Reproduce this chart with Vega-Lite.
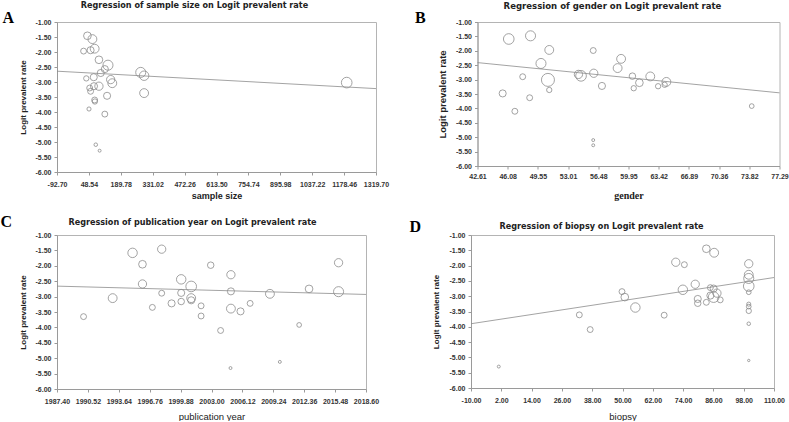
{
  "$schema": "https://vega.github.io/schema/vega-lite/v6.json",
  "padding": {"left": 0, "top": 0, "right": 0, "bottom": 0},
  "spacing": 13,
  "config": {
    "locale": {"number": {"decimal": ".", "thousands": ",", "grouping": [3], "currency": ["$", ""], "minus": "-"}},
    "view": {"stroke": "#b4b4b4", "strokeWidth": 1},
    "axis": {
      "grid": false, "domainColor": "#9a9a9a", "tickColor": "#9a9a9a", "tickSize": 3,
      "labelFont": "Liberation Sans, Arial, sans-serif",
      "labelFontSize": 7, "labelFontWeight": "bold", "labelColor": "#333", "labelFlush": false, "labelPadding": 5,
      "labelOverlap": false,
      "titleFont": "Liberation Sans, Arial, sans-serif", "titleFontSize": 8.5, "titleFontWeight": "bold", "titleColor": "#222"
    },
    "title": {"font": "Liberation Sans Narrow, DejaVu Sans Condensed, sans-serif", "fontSize": 9, "fontWeight": "bold", "color": "#222"}
  },
  "vconcat": [
    {
      "spacing": 24.5,
      "hconcat": [
        {
          "title": {"text": "A", "anchor": "start", "frame": "bounds", "font": "Liberation Serif", "fontSize": 16, "fontWeight": "bold", "color": "#000", "offset": -25.5, "dx": -16},
          "vconcat": [
            {
              "title": {"text": "Regression of sample size on Logit prevalent  rate", "anchor": "middle", "frame": "group", "dx": -22, "offset": 8.5},
              "width": 319, "height": 150,
              "layer": [
                {
                  "data": {"values": [
                    {"value": 42, "logit": -1.46, "weight": 13},
                    {"value": 64, "logit": -1.57, "weight": 15},
                    {"value": 25, "logit": -1.97, "weight": 10},
                    {"value": 56, "logit": -1.94, "weight": 12},
                    {"value": 74, "logit": -1.89, "weight": 15},
                    {"value": 93, "logit": -2.26, "weight": 13},
                    {"value": 133, "logit": -2.44, "weight": 17},
                    {"value": 119, "logit": -2.57, "weight": 12},
                    {"value": 101, "logit": -2.70, "weight": 12},
                    {"value": 37, "logit": -2.88, "weight": 9},
                    {"value": 70, "logit": -2.84, "weight": 12},
                    {"value": 145, "logit": -2.92, "weight": 14},
                    {"value": 152, "logit": -3.04, "weight": 15},
                    {"value": 71, "logit": -3.14, "weight": 12},
                    {"value": 93, "logit": -3.14, "weight": 14},
                    {"value": 52, "logit": -3.20, "weight": 10},
                    {"value": 56, "logit": -3.31, "weight": 10},
                    {"value": 129, "logit": -3.46, "weight": 12},
                    {"value": 74, "logit": -3.60, "weight": 10},
                    {"value": 75, "logit": -3.65, "weight": 9},
                    {"value": 49, "logit": -3.90, "weight": 7},
                    {"value": 119, "logit": -4.07, "weight": 10},
                    {"value": 79, "logit": -5.09, "weight": 6},
                    {"value": 96, "logit": -5.29, "weight": 5},
                    {"value": 278, "logit": -2.68, "weight": 17},
                    {"value": 293, "logit": -2.79, "weight": 16},
                    {"value": 293, "logit": -3.37, "weight": 15},
                    {"value": 1190, "logit": -3.02, "weight": 18}
                  ]},
                  "mark": {"type": "point", "shape": "circle", "filled": false, "stroke": "#8c8c8c", "strokeWidth": 0.8, "opacity": 1},
                  "encoding": {
                    "x": {"field": "value", "type": "quantitative", "scale": {"domain": [-92.7, 1319.7], "nice": false, "zero": false},
                          "axis": {"title": "sample size", "titleFontSize": 9, "titlePadding": 4.5, "tickCount": 11, "labelOverlap": false, "format": ".2f", "values": [-92.7, 48.54, 189.78, 331.02, 472.26, 613.5, 754.74, 895.98, 1037.22, 1178.46, 1319.7]}},
                    "y": {"field": "logit", "type": "quantitative", "scale": {"domain": [-6, -1], "nice": false, "zero": false},
                          "axis": {"title": "Logit prevalent rate", "titleFontSize": 8, "titlePadding": 8, "labelPadding": 3, "tickCount": 11, "labelOverlap": false, "format": ".2f", "values": [-1, -1.5, -2, -2.5, -3, -3.5, -4, -4.5, -5, -5.5, -6]}},
                    "size": {"field": "weight", "type": "quantitative", "scale": {"type": "pow", "exponent": 2, "domain": [0, 20], "range": [0, 140]}, "legend": null}
                  }
                },
                {
                  "data": {"values": [{"value": -92.7, "logit": -2.64}, {"value": 1319.7, "logit": -3.22}]},
                  "mark": {"type": "line", "stroke": "#8c8c8c", "strokeWidth": 0.8},
                  "encoding": {"x": {"field": "value", "type": "quantitative"}, "y": {"field": "logit", "type": "quantitative"}}
                }
              ]
            }
          ]
        },
        {
          "title": {"text": "B", "anchor": "start", "frame": "bounds", "font": "Liberation Serif", "fontSize": 16, "fontWeight": "bold", "color": "#000", "offset": -25.5, "dx": -22},
          "vconcat": [
            {
              "title": {"text": "Regression of gender on Logit prevalent rate", "anchor": "middle", "frame": "group", "dx": -16, "offset": 8, "fontSize": 9.5},
              "width": 302, "height": 144,
              "layer": [
                {
                  "data": {"values": [
                    {"value": 46.2, "logit": -1.59, "weight": 18},
                    {"value": 48.7, "logit": -1.48, "weight": 17},
                    {"value": 50.85, "logit": -1.97, "weight": 15},
                    {"value": 49.9, "logit": -2.44, "weight": 17},
                    {"value": 47.8, "logit": -2.90, "weight": 10},
                    {"value": 50.7, "logit": -3.01, "weight": 22},
                    {"value": 50.85, "logit": -3.36, "weight": 9},
                    {"value": 45.5, "logit": -3.48, "weight": 12},
                    {"value": 46.9, "logit": -4.10, "weight": 10},
                    {"value": 48.6, "logit": -3.63, "weight": 10},
                    {"value": 54.2, "logit": -2.82, "weight": 14},
                    {"value": 54.5, "logit": -2.87, "weight": 18},
                    {"value": 55.9, "logit": -1.99, "weight": 10},
                    {"value": 55.96, "logit": -2.78, "weight": 14},
                    {"value": 56.9, "logit": -3.22, "weight": 12},
                    {"value": 58.7, "logit": -2.60, "weight": 15},
                    {"value": 59.1, "logit": -2.28, "weight": 15},
                    {"value": 60.4, "logit": -2.88, "weight": 11},
                    {"value": 60.55, "logit": -3.30, "weight": 9},
                    {"value": 61.2, "logit": -3.11, "weight": 13},
                    {"value": 62.45, "logit": -2.89, "weight": 15},
                    {"value": 63.35, "logit": -3.23, "weight": 9},
                    {"value": 64.3, "logit": -3.08, "weight": 15},
                    {"value": 64.1, "logit": -3.18, "weight": 9},
                    {"value": 55.9, "logit": -5.10, "weight": 5},
                    {"value": 55.9, "logit": -5.28, "weight": 5},
                    {"value": 74.1, "logit": -3.92, "weight": 8}
                  ]},
                  "mark": {"type": "point", "shape": "circle", "filled": false, "stroke": "#8c8c8c", "strokeWidth": 0.8, "opacity": 1},
                  "encoding": {
                    "x": {"field": "value", "type": "quantitative", "scale": {"domain": [42.61, 77.29], "nice": false, "zero": false},
                          "axis": {"title": "gender", "titleFont": "Liberation Serif", "titleFontSize": 10, "titlePadding": 11, "labelPadding": 3, "tickCount": 11, "labelOverlap": false, "format": ".2f", "values": [42.61, 46.078, 49.546, 53.014, 56.482, 59.95, 63.418, 66.886, 70.356, 73.822, 77.29]}},
                    "y": {"field": "logit", "type": "quantitative", "scale": {"domain": [-6, -1], "nice": false, "zero": false},
                          "axis": {"title": "Logit prevalent rate", "titleFontSize": 9.5, "titlePadding": 8, "labelPadding": 3, "tickCount": 11, "labelOverlap": false, "format": ".2f", "values": [-1, -1.5, -2, -2.5, -3, -3.5, -4, -4.5, -5, -5.5, -6]}},
                    "size": {"field": "weight", "type": "quantitative", "scale": {"type": "pow", "exponent": 2, "domain": [0, 20], "range": [0, 140]}, "legend": null}
                  }
                },
                {
                  "data": {"values": [{"value": 42.61, "logit": -2.41}, {"value": 77.29, "logit": -3.46}]},
                  "mark": {"type": "line", "stroke": "#8c8c8c", "strokeWidth": 0.8},
                  "encoding": {"x": {"field": "value", "type": "quantitative"}, "y": {"field": "logit", "type": "quantitative"}}
                }
              ]
            }
          ]
        }
      ]
    },
    {
      "spacing": 29,
      "hconcat": [
        {
          "title": {"text": "C", "anchor": "start", "frame": "bounds", "font": "Liberation Serif", "fontSize": 16, "fontWeight": "bold", "color": "#000", "offset": -13, "dx": -18},
          "vconcat": [
            {
              "title": {"text": "Regression of publication year on Logit prevalent rate", "anchor": "middle", "frame": "group", "dx": -19, "offset": 4.5},
              "width": 309, "height": 154,
              "layer": [
                {
                  "data": {"values": [
                    {"value": 1990.08, "logit": -3.65, "weight": 10},
                    {"value": 1993.02, "logit": -3.05, "weight": 15},
                    {"value": 1995.03, "logit": -1.58, "weight": 16},
                    {"value": 1996.03, "logit": -1.95, "weight": 13},
                    {"value": 1996.03, "logit": -2.59, "weight": 14},
                    {"value": 1997.03, "logit": -3.35, "weight": 10},
                    {"value": 1997.97, "logit": -1.46, "weight": 14},
                    {"value": 1997.97, "logit": -2.89, "weight": 10},
                    {"value": 1998.97, "logit": -3.22, "weight": 12},
                    {"value": 1999.94, "logit": -2.44, "weight": 16},
                    {"value": 1999.94, "logit": -2.88, "weight": 12},
                    {"value": 1999.94, "logit": -3.16, "weight": 11},
                    {"value": 2000.95, "logit": -2.67, "weight": 18},
                    {"value": 2000.95, "logit": -3.05, "weight": 15},
                    {"value": 2000.95, "logit": -3.12, "weight": 12},
                    {"value": 2001.95, "logit": -3.30, "weight": 10},
                    {"value": 2001.95, "logit": -3.63, "weight": 10},
                    {"value": 2002.92, "logit": -1.98, "weight": 11},
                    {"value": 2003.92, "logit": -4.10, "weight": 10},
                    {"value": 2004.96, "logit": -2.29, "weight": 14},
                    {"value": 2004.96, "logit": -2.83, "weight": 12},
                    {"value": 2004.96, "logit": -3.39, "weight": 15},
                    {"value": 2004.92, "logit": -5.32, "weight": 5},
                    {"value": 2005.93, "logit": -3.48, "weight": 12},
                    {"value": 2006.9, "logit": -3.22, "weight": 10},
                    {"value": 2008.9, "logit": -2.91, "weight": 15},
                    {"value": 2009.9, "logit": -5.12, "weight": 5},
                    {"value": 2011.85, "logit": -3.92, "weight": 8},
                    {"value": 2012.85, "logit": -2.75, "weight": 13},
                    {"value": 2015.83, "logit": -1.90, "weight": 14},
                    {"value": 2015.83, "logit": -2.84, "weight": 17}
                  ]},
                  "mark": {"type": "point", "shape": "circle", "filled": false, "stroke": "#8c8c8c", "strokeWidth": 0.8, "opacity": 1},
                  "encoding": {
                    "x": {"field": "value", "type": "quantitative", "scale": {"domain": [1987.4, 2018.6], "nice": false, "zero": false},
                          "axis": {"title": "publication year", "titleFontSize": 9.5, "titleFontWeight": "normal", "titlePadding": 7, "tickCount": 11, "labelOverlap": false, "format": ".2f", "values": [1987.4, 1990.52, 1993.64, 1996.76, 1999.88, 2003.0, 2006.12, 2009.24, 2012.36, 2015.48, 2018.6]}},
                    "y": {"field": "logit", "type": "quantitative", "scale": {"domain": [-6, -1], "nice": false, "zero": false},
                          "axis": {"title": "Logit prevalent rate", "titleFontSize": 8, "titlePadding": 8, "labelPadding": 3, "tickCount": 11, "labelOverlap": false, "format": ".2f", "values": [-1, -1.5, -2, -2.5, -3, -3.5, -4, -4.5, -5, -5.5, -6]}},
                    "size": {"field": "weight", "type": "quantitative", "scale": {"type": "pow", "exponent": 2, "domain": [0, 20], "range": [0, 140]}, "legend": null}
                  }
                },
                {
                  "data": {"values": [{"value": 1987.4, "logit": -2.66}, {"value": 2018.6, "logit": -2.93}]},
                  "mark": {"type": "line", "stroke": "#8c8c8c", "strokeWidth": 0.8},
                  "encoding": {"x": {"field": "value", "type": "quantitative"}, "y": {"field": "logit", "type": "quantitative"}}
                }
              ]
            }
          ]
        },
        {
          "title": {"text": "D", "anchor": "start", "frame": "bounds", "font": "Liberation Serif", "fontSize": 16, "fontWeight": "bold", "color": "#000", "offset": -13.5, "dx": -22},
          "vconcat": [
            {
              "title": {"text": "Regression of biopsy on Logit prevalent rate", "anchor": "middle", "frame": "group", "dx": -21, "offset": 0},
              "width": 303, "height": 153,
              "layer": [
                {
                  "data": {"values": [
                    {"value": 1, "logit": -5.30, "weight": 5},
                    {"value": 32.9, "logit": -3.61, "weight": 10},
                    {"value": 37.2, "logit": -4.09, "weight": 10},
                    {"value": 49.8, "logit": -2.85, "weight": 10},
                    {"value": 50.9, "logit": -3.03, "weight": 13},
                    {"value": 55.1, "logit": -3.37, "weight": 16},
                    {"value": 66.5, "logit": -3.62, "weight": 10},
                    {"value": 71.1, "logit": -1.89, "weight": 14},
                    {"value": 74.5, "logit": -1.97, "weight": 10},
                    {"value": 73.9, "logit": -2.79, "weight": 16},
                    {"value": 78.8, "logit": -2.61, "weight": 14},
                    {"value": 79.8, "logit": -3.09, "weight": 12},
                    {"value": 79.8, "logit": -3.23, "weight": 11},
                    {"value": 83.2, "logit": -1.45, "weight": 13},
                    {"value": 86.3, "logit": -1.58, "weight": 15},
                    {"value": 83.2, "logit": -3.20, "weight": 10},
                    {"value": 84.8, "logit": -2.98, "weight": 12},
                    {"value": 84.8, "logit": -2.72, "weight": 10},
                    {"value": 86.1, "logit": -3.03, "weight": 18},
                    {"value": 86.1, "logit": -2.75, "weight": 12},
                    {"value": 87.4, "logit": -2.90, "weight": 14},
                    {"value": 88.7, "logit": -3.12, "weight": 10},
                    {"value": 100, "logit": -1.94, "weight": 14},
                    {"value": 100, "logit": -2.30, "weight": 15},
                    {"value": 100, "logit": -2.42, "weight": 17},
                    {"value": 100, "logit": -2.67, "weight": 18},
                    {"value": 100, "logit": -2.87, "weight": 8},
                    {"value": 100, "logit": -3.26, "weight": 7},
                    {"value": 100, "logit": -3.34, "weight": 8},
                    {"value": 100, "logit": -3.48, "weight": 9},
                    {"value": 100, "logit": -3.90, "weight": 6},
                    {"value": 100, "logit": -5.10, "weight": 4}
                  ]},
                  "mark": {"type": "point", "shape": "circle", "filled": false, "stroke": "#8c8c8c", "strokeWidth": 0.8, "opacity": 1},
                  "encoding": {
                    "x": {"field": "value", "type": "quantitative", "scale": {"domain": [-10, 110], "nice": false, "zero": false},
                          "axis": {"title": "biopsy", "titleFontSize": 9.5, "titleFontWeight": "normal", "titlePadding": 8, "tickCount": 11, "labelOverlap": false, "format": ".2f", "values": [-10, 2, 14, 26, 38, 50, 62, 74, 86, 98, 110]}},
                    "y": {"field": "logit", "type": "quantitative", "scale": {"domain": [-6, -1], "nice": false, "zero": false},
                          "axis": {"title": "Logit prevalent rate", "titleFontSize": 8, "titlePadding": 9, "labelPadding": 3, "tickCount": 11, "labelOverlap": false, "format": ".2f", "values": [-1, -1.5, -2, -2.5, -3, -3.5, -4, -4.5, -5, -5.5, -6]}},
                    "size": {"field": "weight", "type": "quantitative", "scale": {"type": "pow", "exponent": 2, "domain": [0, 20], "range": [0, 140]}, "legend": null}
                  }
                },
                {
                  "data": {"values": [{"value": -10, "logit": -3.90}, {"value": 110, "logit": -2.39}]},
                  "mark": {"type": "line", "stroke": "#8c8c8c", "strokeWidth": 0.8},
                  "encoding": {"x": {"field": "value", "type": "quantitative"}, "y": {"field": "logit", "type": "quantitative"}}
                }
              ]
            }
          ]
        }
      ]
    }
  ]
}
